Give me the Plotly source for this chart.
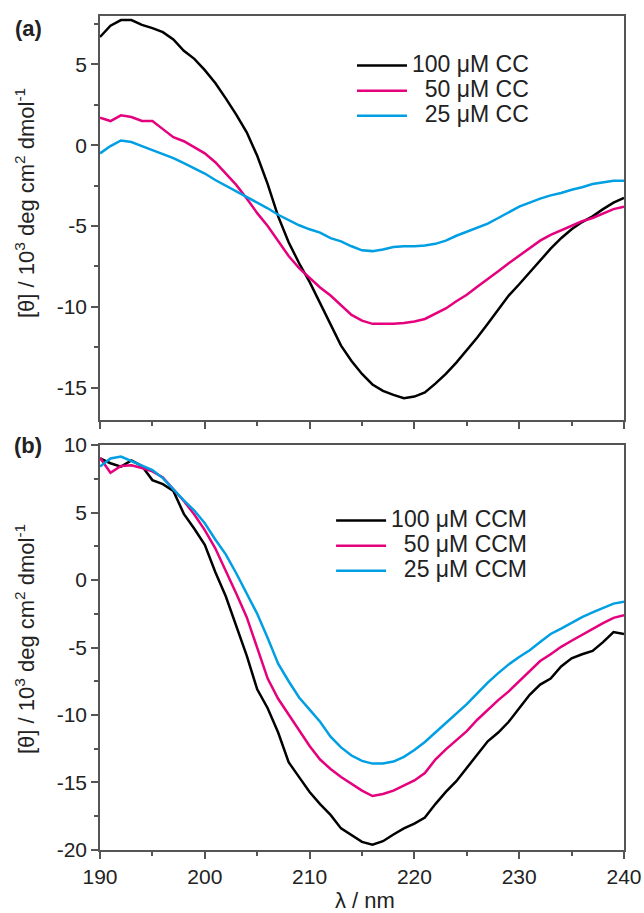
import plotly.graph_objects as go

wavelength = list(range(190, 241))

cc_100 = [6.7, 7.4, 7.75, 7.75, 7.45, 7.25, 7.0, 6.55, 5.85, 5.35,
          4.65, 3.85, 2.9, 1.9, 0.8, -0.65, -2.4, -4.4, -6.0, -7.3,
          -8.45, -9.8, -11.1, -12.4, -13.35, -14.15, -14.8, -15.2, -15.45, -15.65,
          -15.55, -15.3, -14.75, -14.15, -13.45, -12.7, -11.9, -11.05, -10.15, -9.3,
          -8.6, -7.85, -7.1, -6.4, -5.75, -5.2, -4.75, -4.4, -3.95, -3.55, -3.25]
cc_50 = [1.7, 1.5, 1.85, 1.75, 1.5, 1.5, 1.0, 0.5, 0.25, -0.1,
         -0.5, -1.05, -1.75, -2.45, -3.3, -4.2, -5.0, -5.9, -6.85, -7.6,
         -8.2, -8.8, -9.3, -9.9, -10.5, -10.85, -11.05, -11.05, -11.05, -11.0,
         -10.9, -10.75, -10.45, -10.1, -9.65, -9.25, -8.75, -8.3, -7.8, -7.3,
         -6.85, -6.35, -5.9, -5.55, -5.25, -4.95, -4.7, -4.5, -4.2, -3.95, -3.8]
cc_25 = [-0.5, -0.05, 0.3, 0.2, -0.05, -0.3, -0.55, -0.8, -1.1, -1.4,
         -1.75, -2.15, -2.5, -2.85, -3.15, -3.5, -3.9, -4.3, -4.65, -4.95,
         -5.2, -5.4, -5.75, -5.95, -6.25, -6.5, -6.55, -6.45, -6.3, -6.25,
         -6.25, -6.2, -6.1, -5.9, -5.6, -5.35, -5.1, -4.85, -4.5, -4.15,
         -3.8, -3.55, -3.3, -3.1, -2.95, -2.75, -2.6, -2.4, -2.3, -2.2, -2.2]

ccm_100 = [9.0, 8.65, 8.4, 8.85, 8.45, 7.4, 7.1, 6.6, 4.9, 3.8,
           2.6, 0.6, -1.2, -3.4, -5.6, -8.1, -9.5, -11.3, -13.5, -14.6,
           -15.7, -16.6, -17.4, -18.4, -18.9, -19.4, -19.6, -19.35, -18.85, -18.4,
           -18.05, -17.6, -16.6, -15.7, -14.9, -13.9, -12.9, -11.95, -11.3, -10.5,
           -9.5, -8.5, -7.75, -7.3, -6.4, -5.8, -5.5, -5.25, -4.6, -3.85, -4.0]
ccm_50 = [9.05, 7.95, 8.45, 8.5, 8.3, 8.05, 7.6, 6.7, 5.85, 4.85,
          3.7, 2.35, 0.7, -1.0, -2.75, -5.0, -7.3, -8.8, -9.95, -11.1,
          -12.3, -13.3, -14.0, -14.6, -15.1, -15.6, -16.0, -15.85, -15.6, -15.2,
          -14.85, -14.3, -13.3, -12.55, -11.9, -11.2, -10.35, -9.6, -8.9, -8.25,
          -7.5, -6.75, -6.0, -5.5, -4.95, -4.5, -4.05, -3.65, -3.2, -2.8, -2.6]
ccm_25 = [8.4, 9.0, 9.15, 8.8, 8.45, 8.15, 7.55, 6.7, 5.9, 5.15,
          4.2, 3.0, 1.9, 0.5, -1.0, -2.5, -4.3, -6.2, -7.5, -8.7,
          -9.6, -10.5, -11.6, -12.4, -13.0, -13.4, -13.6, -13.6, -13.45, -13.1,
          -12.6, -12.0, -11.3, -10.6, -9.9, -9.2, -8.4, -7.6, -6.9, -6.25,
          -5.7, -5.2, -4.6, -4.0, -3.6, -3.15, -2.75, -2.4, -2.05, -1.75, -1.6]

names_a = ["100 μM CC", "\u00a0\u00a050 μM CC", "\u00a0\u00a025 μM CC"]
names_b = ["100 μM CCM", "\u00a0\u00a050 μM CCM", "\u00a0\u00a025 μM CCM"]
colors = ["#000000", "#E5007D", "#009EE2"]

x_ticks = [190, 200, 210, 220, 230, 240]
ya_ticks = [-15, -10, -5, 0, 5]
yb_ticks = [-20, -15, -10, -5, 0, 5, 10]
ya_labels = ["-15", "-10", "-5", "0", "5"]
yb_labels = ["-20", "-15", "-10", "-5", "0", "5", "10"]

FONT = "Arial, Liberation Sans, sans-serif"
TXT = "#222222"
AX = "#555555"

fig = go.Figure()
for ys, nm, c in zip([cc_100, cc_50, cc_25], names_a, colors):
    fig.add_trace(go.Scatter(x=wavelength, y=ys, mode="lines",
                             name='<span style="font-size:23px">' + nm + '</span>',
                             line=dict(color=c, width=2.5),
                             xaxis="x", yaxis="y", legend="legend"))
for ys, nm, c in zip([ccm_100, ccm_50, ccm_25], names_b, colors):
    fig.add_trace(go.Scatter(x=wavelength, y=ys, mode="lines",
                             name='<span style="font-size:23px">' + nm + '</span>',
                             line=dict(color=c, width=2.5),
                             xaxis="x2", yaxis="y2", legend="legend2"))

axis_common = dict(showline=True, linecolor=AX, linewidth=1.5, mirror=True,
                   ticks="outside", tickcolor=AX, tickwidth=1.5, ticklen=7,
                   showgrid=False, zeroline=False, automargin=False,
                   tickfont=dict(family=FONT, size=21, color=TXT))

fig.update_layout(
    width=644, height=913, autosize=False,
    margin=dict(l=100, r=20, t=16, b=63, autoexpand=False),
    paper_bgcolor="white", plot_bgcolor="white",
    font=dict(family=FONT, color=TXT),
    xaxis=dict(axis_common, range=[190, 240], anchor="y", tickvals=x_ticks,
               showticklabels=False,
               minor=dict(dtick=5, ticks="outside", ticklen=4, tickcolor=AX, tickwidth=1.5)),
    yaxis=dict(axis_common, range=[-17, 8], domain=[0.5156, 1], anchor="x",
               tickvals=ya_ticks, ticktext=ya_labels,
               minor=dict(dtick=2.5, tick0=0, ticks="outside", ticklen=4, tickcolor=AX, tickwidth=1.5)),
    xaxis2=dict(axis_common, range=[190, 240], anchor="y2", tickvals=x_ticks,
                minor=dict(dtick=5, ticks="outside", ticklen=4, tickcolor=AX, tickwidth=1.5)),
    yaxis2=dict(axis_common, range=[-20, 10], domain=[0, 0.4856], anchor="x2",
                tickvals=yb_ticks, ticktext=yb_labels,
                minor=dict(dtick=2.5, tick0=0, ticks="outside", ticklen=4, tickcolor=AX, tickwidth=1.5)),
    legend=dict(x=0.4809, y=0.9616, xanchor="left", yanchor="top",
                bgcolor="rgba(0,0,0,0)", font=dict(family=FONT, size=17, color=TXT),
                itemwidth=50, tracegroupgap=0),
    legend2=dict(x=0.441, y=0.416, xanchor="left", yanchor="top",
                 bgcolor="rgba(0,0,0,0)", font=dict(family=FONT, size=17, color=TXT),
                 itemwidth=50, tracegroupgap=0),
    showlegend=True,
)

ytitle = "[θ] / 10<sup>3</sup> deg cm<sup>2</sup> dmol<sup>-1</sup>"
annos = [
    dict(text=ytitle, x=-0.1431, y=0.7758, textangle=-90),
    dict(text=ytitle, x=-0.1431, y=0.253, textangle=-90),
    dict(text="<b>(a)</b>", x=-0.1355, y=0.9856),
    dict(text="<b>(b)</b>", x=-0.137, y=0.4856),
    dict(text="λ / nm", x=0.5057, y=-0.061),
]
for a in annos:
    fig.add_annotation(xref="paper", yref="paper", showarrow=False,
                       xanchor="center", yanchor="middle",
                       font=dict(family=FONT, size=22, color=TXT), **a)

fig.write_html("out.html")
